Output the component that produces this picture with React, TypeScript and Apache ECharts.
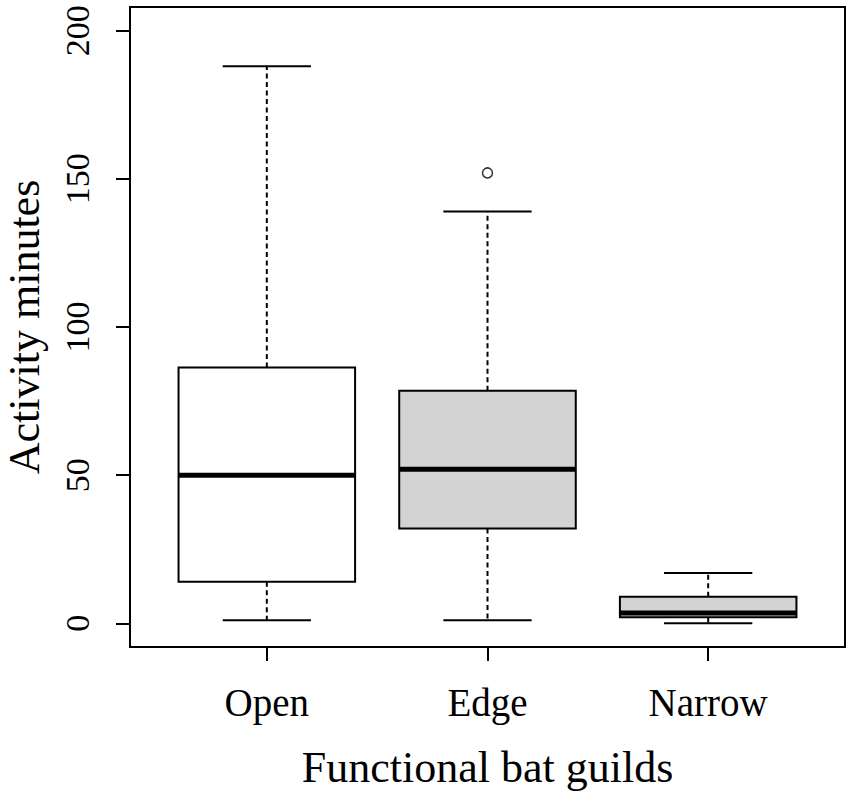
import React, { useEffect, useRef } from "react";
import * as echarts from "echarts";

const categories = ["Open", "Edge", "Narrow"];
const lowerWhisker = [1, 1, 0];
const q1 = [14, 32, 2];
const median = [50, 52, 3.5];
const q3 = [86.3, 78.5, 9];
const upperWhisker = [188, 139, 17];
const fills = ["#ffffff", "#d3d3d3", "#d3d3d3"];
const outliers: [number, number][] = [[2, 152]];
const yTicks = [0, 50, 100, 150, 200];
const xPositions = [1, 2, 3];

const FONT = "'Liberation Serif', 'Times New Roman', serif";

export default function App() {
  const ref = useRef<HTMLDivElement>(null);
  useEffect(() => {
    document.body.style.margin = "0";
    const chart = echarts.init(ref.current!, null, { renderer: "svg" });
    const boxData = categories.map((_, i) => [
      xPositions[i],
      lowerWhisker[i],
      q1[i],
      median[i],
      q3[i],
      upperWhisker[i],
      i,
    ]);
    chart.setOption({
      animation: false,
      backgroundColor: "#ffffff",
      grid: {
        left: 130,
        right: 6,
        top: 7,
        bottom: 151,
        show: true,
        borderColor: "#000",
        borderWidth: 2,
        backgroundColor: "transparent",
        containLabel: false,
        outerBoundsMode: "none",
      },
      xAxis: {
        type: "value",
        min: 0.38,
        max: 3.62,
        position: "bottom",
        name: "Functional bat guilds",
        nameLocation: "middle",
        nameGap: 98,
        nameTextStyle: { fontFamily: FONT, fontSize: 44, color: "#000" },
        axisLine: { show: false, onZero: false },
        splitLine: { show: false },
        axisTick: {
          show: true,
          inside: false,
          length: 14,
          lineStyle: { color: "#000", width: 2 },
          customValues: xPositions,
        },
        axisLabel: {
          show: true,
          margin: 36,
          fontFamily: FONT,
          fontSize: 39,
          color: "#000",
          customValues: xPositions,
          formatter: (v: number) => categories[Math.round(v) - 1] ?? "",
        },
      },
      yAxis: {
        type: "value",
        min: -8,
        max: 208,
        position: "left",
        name: "Activity minutes",
        nameLocation: "middle",
        nameGap: 84,
        nameRotate: 90,
        nameTextStyle: { fontFamily: FONT, fontSize: 44, color: "#000" },
        axisLine: { show: false, onZero: false },
        splitLine: { show: false },
        axisTick: {
          show: true,
          inside: false,
          length: 14,
          lineStyle: { color: "#000", width: 2 },
          customValues: yTicks,
        },
        axisLabel: {
          show: true,
          rotate: 90,
          margin: 36,
          fontFamily: FONT,
          fontSize: 34,
          color: "#000",
          customValues: yTicks,
        },
      },
      series: [
        {
          type: "custom",
          data: boxData,
          encode: { x: 0, y: [1, 2, 3, 4, 5] },
          renderItem: (params: any, api: any) => {
            const x = api.value(0);
            const idx = api.value(6);
            const lo = api.coord([x, api.value(1)]);
            const b1 = api.coord([x, api.value(2)]);
            const md = api.coord([x, api.value(3)]);
            const b3 = api.coord([x, api.value(4)]);
            const hi = api.coord([x, api.value(5)]);
            const halfBox = api.size([0.4, 0])[0];
            const halfCap = api.size([0.2, 0])[0];
            const cx = lo[0];
            const solid = { stroke: "#000", lineWidth: 2, fill: null };
            const dashed = { stroke: "#000", lineWidth: 2, lineDash: [5, 3.5], fill: null };
            return {
              type: "group",
              children: [
                { type: "line", shape: { x1: cx, y1: b3[1], x2: cx, y2: hi[1] }, style: dashed },
                { type: "line", shape: { x1: cx, y1: b1[1], x2: cx, y2: lo[1] }, style: dashed },
                { type: "line", shape: { x1: cx - halfCap, y1: hi[1], x2: cx + halfCap, y2: hi[1] }, style: solid },
                { type: "line", shape: { x1: cx - halfCap, y1: lo[1], x2: cx + halfCap, y2: lo[1] }, style: solid },
                {
                  type: "rect",
                  shape: { x: cx - halfBox, y: b3[1], width: halfBox * 2, height: b1[1] - b3[1] },
                  style: { fill: fills[idx], stroke: "#000", lineWidth: 2 },
                },
                {
                  type: "line",
                  shape: { x1: cx - halfBox, y1: md[1], x2: cx + halfBox, y2: md[1] },
                  style: { stroke: "#000", lineWidth: 5, fill: null },
                },
              ],
            };
          },
        },
        {
          type: "scatter",
          data: outliers,
          symbol: "circle",
          symbolSize: 10,
          itemStyle: { color: "#fff", borderColor: "#000", borderWidth: 1.5 },
        },
      ],
    });
    return () => chart.dispose();
  }, []);
  return <div ref={ref} style={{ width: 851, height: 798 }} />;
}
